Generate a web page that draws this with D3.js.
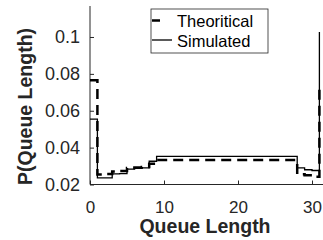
<!DOCTYPE html>
<html><head><meta charset="utf-8">
<script src="https://cdn.jsdelivr.net/npm/d3@7"></script>
<style>body{margin:0;background:#fff}svg{display:block}</style>
</head><body><svg id="c" width="323" height="240"></svg>
<script>
const queueLength = d3.range(0, 32);
const theoretical = [0.0765, 0.0254, 0.0257, 0.0270, 0.0273, 0.0290, 0.0292, 0.0295, 0.0312,
  0.0333,0.0333,0.0333,0.0333,0.0333,0.0333,0.0333,0.0333,0.0333,0.0333,
  0.0333,0.0333,0.0333,0.0333,0.0333,0.0333,0.0333,0.0333,0.0333,
  0.0255, 0.0250, 0.0242, 0.0735];
const simulated = [0.0555, 0.0236, 0.0236, 0.0258, 0.0259, 0.0283, 0.0287, 0.0290, 0.0326,
  0.0353,0.0353,0.0353,0.0353,0.0353,0.0353,0.0353,0.0353,0.0353,0.0353,
  0.0353,0.0353,0.0353,0.0353,0.0353,0.0353,0.0353,0.0353,0.0353,
  0.0290, 0.0280, 0.0276, 0.1027];
const xTicks = [0, 10, 20, 30];
const yTicks = [0.02, 0.04, 0.06, 0.08, 0.1];
const seriesNames = ["Theoritical", "Simulated"];

const svg = d3.select("#c");
const x = d3.scaleLinear().domain([0, 31.5]).range([90, 323.1]);
const y = d3.scaleLinear().domain([0.02, 0.1168]).range([184.5, 6]);
const font = "'Liberation Sans', Arial, Helvetica, sans-serif";
const axisColor = "#262626";

// axes
const xa = svg.append("g").attr("transform", "translate(0,184.5)")
  .call(d3.axisBottom(x).tickValues(xTicks).tickSize(-4).tickPadding(16).tickFormat(d3.format("d")));
const ya = svg.append("g").attr("transform", "translate(90,0)")
  .call(d3.axisLeft(y).tickValues(yTicks).tickSize(-4).tickPadding(10).tickFormat(d => d === 0.1 ? "0.1" : d3.format(".2f")(d)));
[xa, ya].forEach(g => {
  g.select(".domain").attr("stroke", axisColor).attr("stroke-width", 1);
  g.selectAll(".tick line").attr("stroke", axisColor).attr("stroke-width", 1);
  g.selectAll(".tick text").attr("fill", axisColor).attr("font-family", font);
});
xa.selectAll(".tick text").attr("font-size", 17);
ya.selectAll(".tick text").attr("font-size", 18);
xa.select(".domain").attr("d", `M90,0H323`);
ya.select(".domain").attr("d", `M0,184.5V6`);

// lines
const line = d3.line().x((d, i) => x(queueLength[i])).y(d => y(d)).curve(d3.curveStepAfter);
svg.append("path").datum(theoretical).attr("d", line)
  .attr("fill", "none").attr("stroke", "#000").attr("stroke-width", 2.5)
  .attr("stroke-dasharray", "10,6");
svg.append("path").datum(simulated).attr("d", line)
  .attr("fill", "none").attr("stroke", "#000").attr("stroke-width", 1.3);

// labels
svg.append("text").attr("x", 205).attr("y", 233).attr("text-anchor", "middle")
  .attr("font-family", font).attr("font-weight", "bold").attr("font-size", 19.5)
  .attr("fill", axisColor).text("Queue Length");
svg.append("text").attr("transform", "translate(32,106.5) rotate(-90)").attr("text-anchor", "middle")
  .attr("font-family", font).attr("font-weight", "bold").attr("font-size", 19.5)
  .attr("fill", axisColor).text("P(Queue Length)");

// legend
const lg = svg.append("g");
lg.append("rect").attr("x", 151).attr("y", 9).attr("width", 117).attr("height", 44)
  .attr("fill", "#fff").attr("stroke", axisColor).attr("stroke-width", 0.8);
lg.append("line").attr("x1", 152).attr("x2", 172).attr("y1", 20.5).attr("y2", 20.5)
  .attr("stroke", "#000").attr("stroke-width", 2.5).attr("stroke-dasharray", "8,14");
lg.append("line").attr("x1", 152).attr("x2", 172).attr("y1", 40).attr("y2", 40)
  .attr("stroke", "#000").attr("stroke-width", 1.3);
lg.selectAll("text.l").data(seriesNames).join("text").attr("class", "l")
  .attr("x", 177).attr("y", (d, i) => i === 0 ? 26.5 : 46.5)
  .attr("font-family", font).attr("font-size", 16.5).attr("fill", "#000").text(d => d);
</script></body></html>
